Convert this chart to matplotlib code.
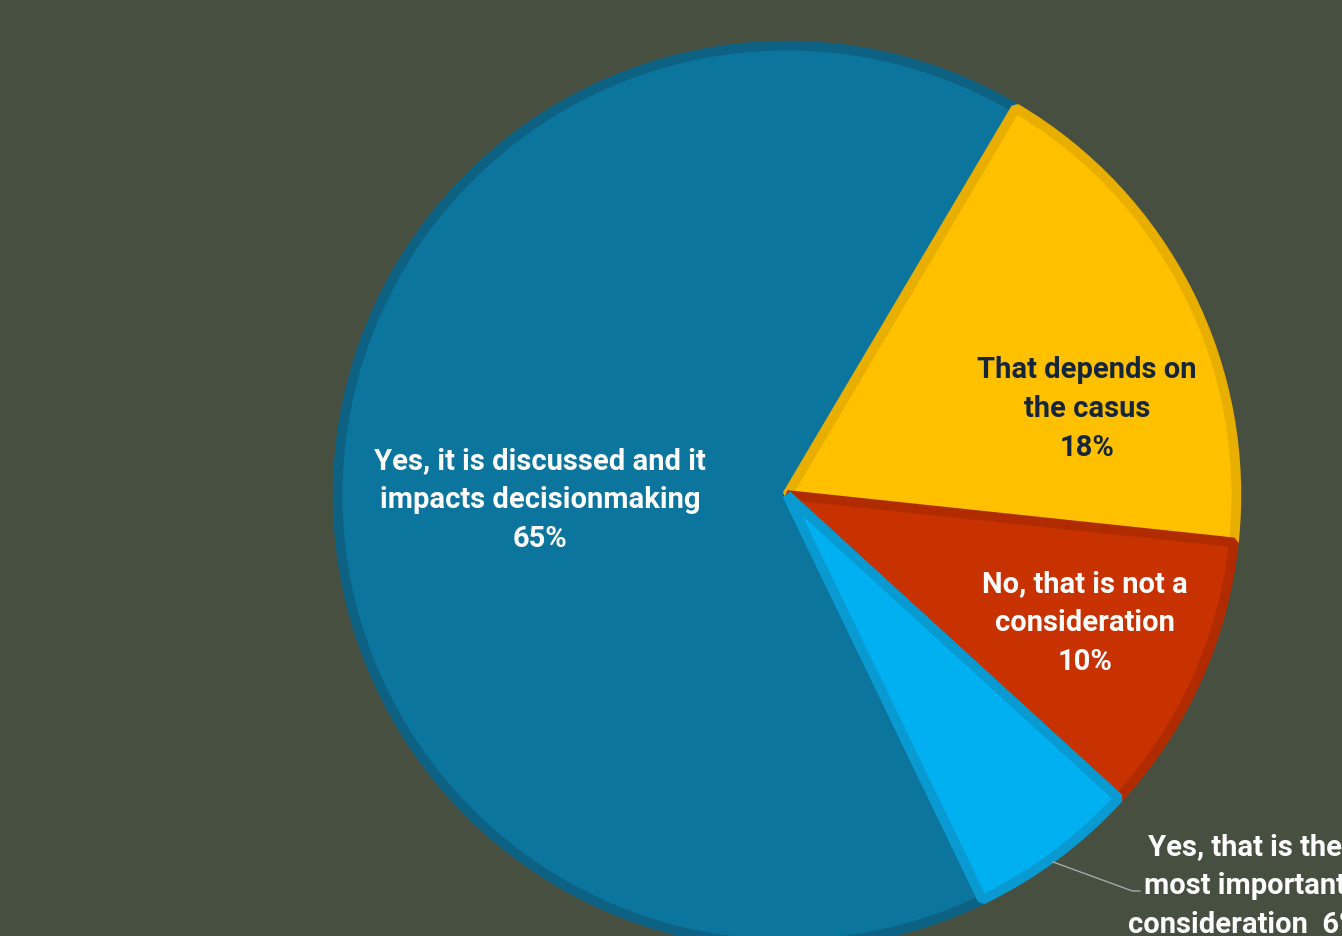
import matplotlib
matplotlib.use("Agg")
import matplotlib.pyplot as plt

# survey answers, in drawing order (clockwise from the blue slice)
answers = [
    "Yes, it is discussed and it\nimpacts decisionmaking",
    "That depends on\nthe casus",
    "No, that is not a\nconsideration",
    "Yes, that is the\nmost important\nconsideration",
]
shares = [65, 18, 10, 6]

fills = ["#0b759e", "#ffc000", "#c83200", "#00b0f0"]
edges = ["#0d6283", "#e8ae00", "#b02c00", "#0a9ad2"]
text_colors = ["white", "#15253a", "white", "white"]

bg = "#474f40"

W, H = 1342, 937
cx, cy, r = 787, 496, 453

fig = plt.figure(figsize=(W / 100, H / 100), dpi=100, facecolor=bg)
ax = fig.add_axes([(cx - r) / W, (H - cy - r) / H, 2 * r / W, 2 * r / H])
ax.set_facecolor(bg)
ax.axis("off")

# blue slice ends at ~59 deg, going clockwise
start = 59.4 + shares[0] / sum(shares) * 360
wedges, _ = ax.pie(shares, colors=fills, startangle=start, counterclock=False,
                   radius=0.992, wedgeprops=dict(linewidth=7))
for w, ec in zip(wedges, edges):
    w.set_edgecolor(ec)
    w.set_joinstyle("bevel")
ax.set_xlim(-1, 1)
ax.set_ylim(-1, 1)

plt.rcParams['font.family'] = ['Roboto', 'DejaVu Sans']

# label positions in data units (radius = 1)
label_pos = [(-0.545, -0.009), (0.662, 0.192), (0.658, -0.280), (1.01, -0.862)]
for txt, s, (x, y), c in zip(answers, shares, label_pos, text_colors):
    sep = "  " if s == shares[3] else "\n"
    ax.text(x, y, f"{txt}{sep}{s}%", ha="center", va="center", color=c,
            fontsize=21, fontweight="bold", linespacing=1.5, clip_on=False)

# leader line for the small slice
ax.plot([0.587, 0.762, 0.779], [-0.81, -0.874, -0.874], color="#a8a8a8",
        linewidth=1.0, clip_on=False)

fig.savefig("out.png", dpi=100, facecolor=bg)
